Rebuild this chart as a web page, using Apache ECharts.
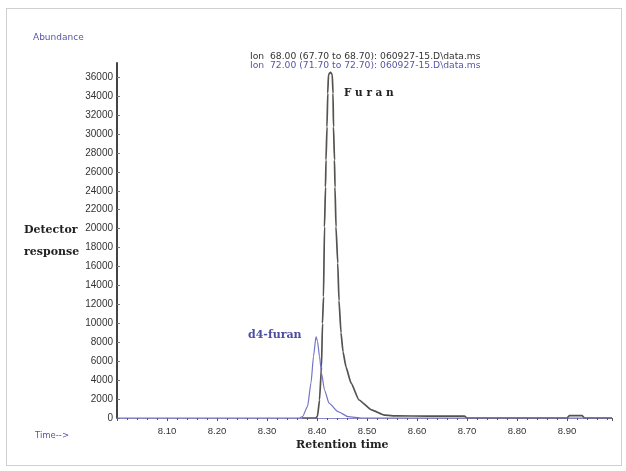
<!DOCTYPE html>
<html>
<head>
<meta charset="utf-8">
<script src="https://cdn.jsdelivr.net/npm/echarts@6/dist/echarts.min.js"></script>
<style>
  html, body { margin: 0; padding: 0; background: #fff; }
  #frame { position: absolute; left: 6px; top: 8px; width: 614px; height: 456px; border: 1px solid #d0d0d0; }
  #chart { position: absolute; left: 0; top: 0; width: 626px; height: 471px; }
</style>
</head>
<body>
<div id="frame"></div>
<div id="chart"></div>
<script>
// retention time (min) and abundance
var furanTime = [8.37, 8.398, 8.401, 8.405, 8.409, 8.411, 8.413, 8.415, 8.417, 8.418, 8.420, 8.4215, 8.423, 8.427, 8.4305, 8.432, 8.433, 8.435, 8.436, 8.438, 8.4415, 8.444, 8.448, 8.452, 8.458, 8.468, 8.484, 8.509, 8.535, 8.56, 8.62, 8.695, 8.70, 8.90, 8.905, 8.93, 8.935, 8.99];
var furanAbund = [0, 0, 200, 1900, 5400, 10000, 12800, 20200, 24400, 27250, 30760, 34300, 36300, 36500, 36300, 34300, 30760, 27250, 24400, 20200, 16350, 12400, 9000, 7000, 5400, 3700, 1900, 850, 300, 220, 200, 200, 0, 0, 250, 250, 0, 0];

var d4Time = [8.00, 8.365, 8.371, 8.381, 8.388, 8.393, 8.398, 8.401, 8.405, 8.409, 8.415, 8.424, 8.442, 8.462, 8.49, 8.99];
var d4Abund = [0, 0, 150, 1200, 3700, 6500, 8600, 8100, 6500, 4750, 2960, 1580, 670, 150, 0, 0];

var yMax = 37500;
var yStep = 2000;
var xMin = 8.00;
var xMax = 8.99;

function pairs(t, v) {
  return t.map(function (x, i) { return [x, v[i]]; });
}

var chart = echarts.init(document.getElementById('chart'));
var darkLine = '#55524f';
var blueLine = '#7474c4';

var option = {
  animation: false,
  grid: { left: 117, right: 14, top: 63, bottom: 53 },
  xAxis: {
    type: 'value',
    min: xMin,
    max: xMax,
    interval: 0.1,
    axisLine: { show: true, onZero: false, lineStyle: { color: '#8a8ac8', width: 1 } },
    axisTick: { show: true, inside: false, length: 3, lineStyle: { color: '#555' } },
    minorTick: { show: true, splitNumber: 5, length: 2, lineStyle: { color: '#555' } },
    splitLine: { show: false },
    axisLabel: {
      showMinLabel: false,
      showMaxLabel: false,
      margin: 8,
      fontFamily: 'Liberation Sans',
      fontSize: 9.5,
      color: '#333',
      formatter: function (v) { return v.toFixed(2); }
    }
  },
  yAxis: {
    type: 'value',
    min: 0,
    max: yMax,
    interval: yStep,
    axisLine: { show: true, lineStyle: { color: '#444', width: 2 } },
    axisTick: { show: true, inside: true, length: 3, lineStyle: { color: '#777' } },
    splitLine: { show: false },
    axisLabel: {
      showMaxLabel: false,
      margin: 4,
      fontFamily: 'Liberation Sans',
      fontSize: 10,
      color: '#333',
      formatter: function (v) { return v % yStep === 0 ? String(v) : ''; }
    }
  },
  series: [
    {
      name: 'Ion 68.00',
      type: 'line',
      data: pairs(furanTime, furanAbund),
      showSymbol: false,
      smooth: 0.15,
      smoothMonotone: 'x',
      lineStyle: { color: darkLine, width: 1.7, join: 'round' },
      z: 3
    },
    {
      name: 'Ion 72.00',
      type: 'line',
      data: pairs(d4Time, d4Abund),
      showSymbol: false,
      smooth: 0.2,
      smoothMonotone: 'x',
      lineStyle: { color: blueLine, width: 1.2 },
      z: 4
    }
  ],
  graphic: [
    { type: 'text', left: 33, top: 33, style: { text: 'Abundance', fontFamily: 'DejaVu Sans', fontSize: 9, fill: '#5656a8' } },
    { type: 'text', left: 250, top: 52, style: { text: 'Ion  68.00 (67.70 to 68.70): 060927-15.D\\data.ms', fontFamily: 'DejaVu Sans', fontSize: 9.2, fill: '#333' } },
    { type: 'text', left: 250, top: 61, style: { text: 'Ion  72.00 (71.70 to 72.70): 060927-15.D\\data.ms', fontFamily: 'DejaVu Sans', fontSize: 9.2, fill: '#5656a8' } },
    { type: 'text', left: 344, top: 88, style: { text: 'F u r a n', fontFamily: 'DejaVu Serif', fontWeight: 'bold', fontSize: 10.5, fill: '#222' } },
    { type: 'text', left: 248, top: 330, style: { text: 'd4-furan', fontFamily: 'DejaVu Serif', fontWeight: 'bold', fontSize: 11, fill: '#4c4ca0' } },
    { type: 'text', left: 24, top: 225, style: { text: 'Detector', fontFamily: 'DejaVu Serif', fontWeight: 'bold', fontSize: 11, fill: '#222' } },
    { type: 'text', left: 24, top: 247, style: { text: 'response', fontFamily: 'DejaVu Serif', fontWeight: 'bold', fontSize: 11, fill: '#222' } },
    { type: 'text', left: 296, top: 440, style: { text: 'Retention time', fontFamily: 'DejaVu Serif', fontWeight: 'bold', fontSize: 11, fill: '#222' } },
    { type: 'text', left: 35, top: 431, style: { text: 'Time-->', fontFamily: 'DejaVu Sans', fontSize: 8.5, fill: '#5656a8' } }
  ]
};

chart.setOption(option);
</script>
</body>
</html>
